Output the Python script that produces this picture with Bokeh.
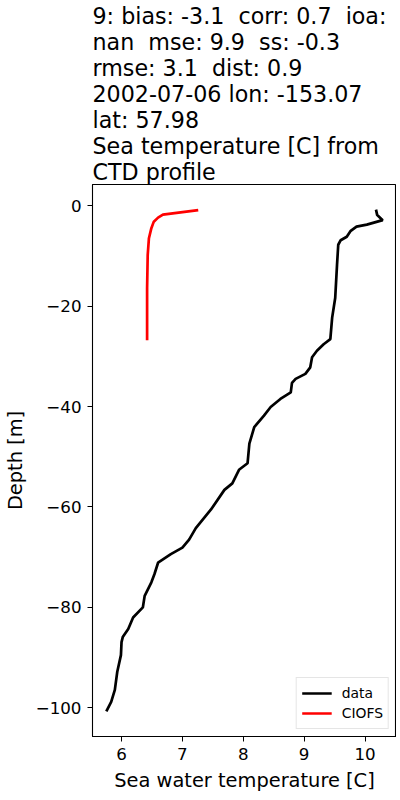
from bokeh.plotting import figure
from bokeh.models import Range1d, FixedTicker, Title, Legend, LegendItem
from bokeh.embed import file_html
from bokeh.resources import INLINE

# Observed CTD profile (temperature [C], depth [m])
obs_temp = [10.18, 10.20, 10.29, 10.03, 9.86, 9.76, 9.70, 9.60, 9.56, 9.54, 9.51, 9.46,
            9.43, 9.32, 9.21, 9.13, 9.10, 9.02, 8.86, 8.80, 8.78, 8.61, 8.45, 8.34, 8.18,
            8.10, 8.07, 7.93, 7.82, 7.69, 7.47, 7.22, 7.11, 7.00, 6.81, 6.60, 6.54, 6.49,
            6.38, 6.35, 6.19, 6.11, 6.02, 6.00, 5.99, 5.93, 5.89, 5.83, 5.75]
obs_depth = [-0.8, -1.9, -2.9, -3.8, -4.2, -5.1, -6.2, -6.9, -7.8, -11.8, -18.4, -22.3,
             -26.6, -27.6, -28.9, -30.2, -32.2, -33.5, -34.5, -35.3, -37.2, -38.5, -40.1, -41.8, -44.1,
             -47.4, -51.3, -52.6, -55.3, -56.6, -60.5, -64.2, -66.5, -68.1, -69.4, -71.1, -73.4, -75.0,
             -77.7, -80.0, -82.0, -84.3, -85.9, -86.9, -89.5, -92.8, -96.4, -98.8, -100.7]

# Model (CIOFS)
mod_temp = [7.26, 6.68, 6.60, 6.53, 6.49, 6.45, 6.43, 6.42, 6.42]
mod_depth = [-0.9, -1.8, -2.4, -3.2, -4.5, -6.5, -9.8, -16.4, -26.8]

x_ticks = [6, 7, 8, 9, 10]
y_ticks = [0, -20, -40, -60, -80, -100]
y_tick_labels = {0: "0", -20: "\u221220", -40: "\u221240", -60: "\u221260", -80: "\u221280", -100: "\u2212100"}

S = " \u00a0"  # double space that survives whitespace collapsing
title_lines = [
    "9: bias: -3.1" + S + "corr: 0.7" + S + "ioa:",
    "nan" + S + "mse: 9.9" + S + "ss: -0.3",
    "rmse: 3.1" + S + "dist: 0.9",
    "2002-07-06 lon: -153.07",
    "lat: 57.98",
    "Sea temperature [C] from",
    "CTD profile",
]

allx = obs_temp + mod_temp
ally = obs_depth + mod_depth
xm = (max(allx) - min(allx)) * 0.05
ym = (max(ally) - min(ally)) * 0.05

p = figure(frame_width=304, frame_height=552, output_backend="svg", toolbar_location=None,
           x_range=Range1d(min(allx) - xm, max(allx) + xm),
           y_range=Range1d(min(ally) - ym, max(ally) + ym),
           min_border_left=83, min_border_right=0, min_border_top=180, min_border_bottom=52)

p.title = Title(text="\n".join(title_lines), align="left", text_font="DejaVu Sans",
                text_font_size="22.2px", text_font_style="normal", text_color="black",
                text_line_height=1.0, standoff=0)

p.xgrid.visible = False
p.ygrid.visible = False
p.outline_line_color = "black"
p.outline_line_width = 1.1

for ax in (p.xaxis[0], p.yaxis[0]):
    ax.major_label_text_font = "DejaVu Sans"
    ax.major_label_text_font_size = "16.7px"
    ax.major_label_text_color = "black"
    ax.axis_label_text_font = "DejaVu Sans"
    ax.axis_label_text_font_size = "19.4px"
    ax.axis_label_text_font_style = "normal"
    ax.axis_label_text_color = "black"
    ax.major_tick_out = 5
    ax.major_tick_in = 0
    ax.minor_tick_out = 0
    ax.minor_tick_in = 0
    ax.major_tick_line_color = "black"
    ax.axis_line_color = "black"

p.xaxis[0].major_label_standoff = 6
p.yaxis[0].major_label_standoff = 6
p.xaxis[0].ticker = FixedTicker(ticks=x_ticks)
p.yaxis[0].ticker = FixedTicker(ticks=y_ticks)
p.yaxis[0].major_label_overrides = y_tick_labels
p.xaxis[0].axis_label = "Sea water temperature [C]"
p.yaxis[0].axis_label = "Depth [m]"
p.xaxis[0].axis_label_standoff = 6
p.yaxis[0].axis_label_standoff = 6

r1 = p.line(obs_temp, obs_depth, line_color="black", line_width=2.7)
r2 = p.line(mod_temp, mod_depth, line_color="red", line_width=2.7)

legend = Legend(items=[LegendItem(label="data", renderers=[r1]),
                       LegendItem(label="CIOFS", renderers=[r2])],
                location="bottom_right", margin=7, padding=5, spacing=0,
                label_text_font="DejaVu Sans", label_text_font_size="13.9px",
                label_text_color="black",
                glyph_width=30, glyph_height=20, label_height=20, label_standoff=10,
                border_line_color="#cccccc", border_line_width=1)
p.add_layout(legend, "center")

open("out.html", "w").write(file_html(p, INLINE))
